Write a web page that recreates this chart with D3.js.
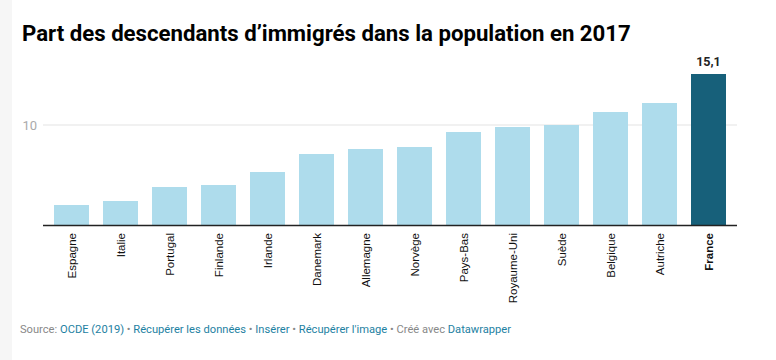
<!DOCTYPE html>
<html><head><meta charset="utf-8">
<script src="https://cdn.jsdelivr.net/npm/d3@7"></script>
<style>body{margin:0;background:#fff;} svg{display:block;}</style>
</head><body>
<svg id="c" width="776" height="360"></svg>
<script>
const countries = ["Espagne","Italie","Portugal","Finlande","Irlande","Danemark","Allemagne","Norvège","Pays-Bas","Royaume-Uni","Suède","Belgique","Autriche","France"];
const values = [2.0,2.4,3.8,4.0,5.3,7.1,7.6,7.8,9.3,9.8,10.0,11.3,12.2,15.1];
const yTicks = [10];
const highlight = "France";

const svg = d3.select("#c");
svg.append("rect").attr("x",0).attr("y",0).attr("width",12).attr("height",360).attr("fill","#f6f6f6");

svg.append("text").attr("x",22).attr("y",41)
  .attr("font-family","Roboto").attr("font-weight","700").attr("font-size",22.2).attr("fill","#000")
  .text("Part des descendants d’immigrés dans la population en 2017");

const x = d3.scaleBand().domain(countries).range([47,733]).paddingInner(14/49).paddingOuter(7/49);
const y = d3.scaleLinear().domain([0,10]).range([225,125]);

const g = svg.append("g");
g.selectAll("line.grid").data(yTicks).join("line")
  .attr("x1",43).attr("x2",737).attr("y1",d=>y(d)).attr("y2",d=>y(d))
  .attr("stroke","#e3e3e3").attr("stroke-width",1);
g.selectAll("text.yt").data(yTicks).join("text")
  .attr("x",37).attr("y",d=>y(d)+4.5).attr("text-anchor","end")
  .attr("font-family","Roboto").attr("font-size",13).attr("fill","#aaa").text(d=>d);

g.selectAll("rect.bar").data(countries).join("rect")
  .attr("x",d=>x(d)).attr("width",x.bandwidth())
  .attr("y",(d,i)=>y(values[i])).attr("height",(d,i)=>y(0)-y(values[i]))
  .attr("fill",d=>d===highlight?"#17607a":"#aedcec");

g.append("line").attr("x1",43).attr("x2",737).attr("y1",225.5).attr("y2",225.5)
  .attr("stroke","#222").attr("stroke-width",1.5);

const hi = countries.indexOf(highlight);
g.append("text").attr("x",x(highlight)+x.bandwidth()/2).attr("y",y(values[hi])-8)
  .attr("text-anchor","middle").attr("font-family","Roboto").attr("font-weight","700")
  .attr("font-size",12.5).attr("fill","#222").text(d3.format(".1f")(values[hi]).replace(".",","));

g.selectAll("text.xl").data(countries).join("text")
  .attr("transform",d=>`translate(${x(d)+x.bandwidth()/2+4},233) rotate(-90)`)
  .attr("text-anchor","end")
  .attr("font-family","Liberation Sans, Arial").attr("font-size",11.5)
  .attr("font-weight",d=>d===highlight?"700":"400")
  .attr("fill","#111").text(d=>d);

const foot = svg.append("text").attr("x",20).attr("y",333)
  .attr("font-family","Roboto").attr("font-size",11.15);
const parts = [["Source: ","#888"],["OCDE (2019)","#1d81a2"],[" • ","#888"],["Récupérer les données","#1d81a2"],[" • ","#888"],["Insérer","#1d81a2"],[" • ","#888"],["Récupérer l'image","#1d81a2"],[" • Créé avec ","#888"],["Datawrapper","#1d81a2"]];
parts.forEach(p=>foot.append("tspan").attr("fill",p[1]).text(p[0]));
</script>
</body></html>
